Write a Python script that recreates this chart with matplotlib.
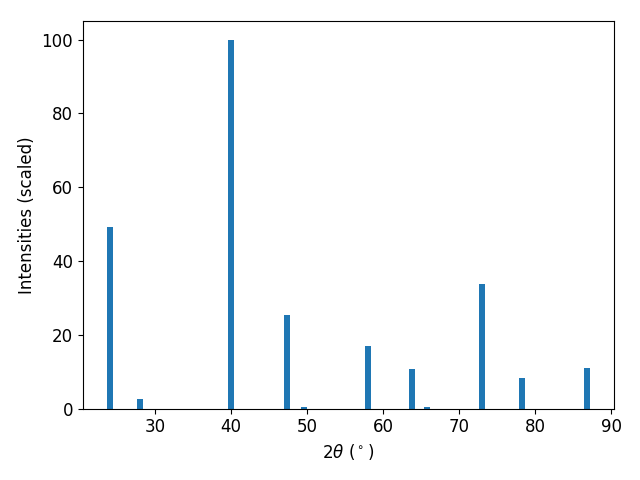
import matplotlib
matplotlib.use('Agg')
import matplotlib.pyplot as plt

# peak positions (2theta, degrees) and scaled intensities
two_theta = [24.1, 28.0, 40.0, 47.4, 49.6, 58.0, 63.8, 65.8, 73.0, 78.3, 86.8]
intensity = [49.1, 2.7, 100.0, 25.3, 0.5, 16.9, 10.8, 0.5, 33.9, 8.4, 11.1]

plt.rcParams['font.size'] = 12

fig, ax = plt.subplots(figsize=(6.4, 4.8), dpi=100)
ax.bar(two_theta, intensity, width=0.8, color='#1f77b4')
ax.set_xlabel(r'$2\theta$ ($^\circ$)')
ax.set_ylabel('Intensities (scaled)')
fig.tight_layout()
fig.subplots_adjust(top=0.956)
fig.savefig('out.png')
